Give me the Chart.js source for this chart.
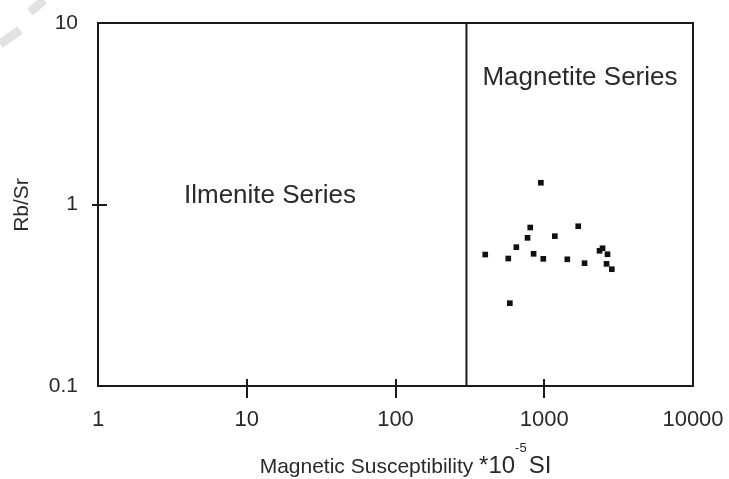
<!DOCTYPE html>
<html>
<head>
<meta charset="utf-8">
<title>Rb/Sr vs Magnetic Susceptibility</title>
<script src="https://cdn.jsdelivr.net/npm/chart.js@4/dist/chart.umd.min.js"></script>
<style>
  html, body { margin: 0; padding: 0; background: #fff; }
  #wrap { width: 729px; height: 479px; position: relative; }
</style>
</head>
<body>
<div id="wrap"><canvas id="msChart"></canvas></div>
<script>
// tick values
const xTicks = [1, 10, 100, 1000, 10000];
const yTicks = [0.1, 1, 10];

// samples: magnetic susceptibility (*10^-5 SI) and Rb/Sr
const susceptibility = [401, 573, 587, 649, 772, 805, 848, 949, 985, 1178, 1429, 1692, 1866, 2353, 2466, 2663, 2623, 2846];
const rbSr = [0.53, 0.504, 0.286, 0.582, 0.655, 0.747, 0.535, 1.318, 0.502, 0.669, 0.499, 0.759, 0.475, 0.556, 0.574, 0.532, 0.471, 0.44];

// ilmenite / magnetite boundary
const seriesBoundary = 300;
const fieldLabels = ['Ilmenite Series', 'Magnetite Series'];

const ink = '#1a1a1a';
const font = '"Liberation Sans", Arial, Helvetica, sans-serif';

const points = susceptibility.map((x, i) => ({x: x, y: rbSr[i]}));

// frame, crossing ticks and text labels
const framePlugin = {
    id: 'frame',
    afterDraw(chart) {
        const ctx = chart.ctx;
        const a = chart.chartArea;
        const xs = chart.scales.x;
        const ys = chart.scales.y;
        ctx.save();

        // faint scan mark in the corner
        ctx.strokeStyle = '#e2e2e2';
        ctx.lineWidth = 9;
        ctx.lineCap = 'butt';
        ctx.beginPath();
        ctx.moveTo(0, 44);
        ctx.lineTo(20, 30);
        ctx.moveTo(30, 12);
        ctx.lineTo(44, 0);
        ctx.stroke();

        ctx.strokeStyle = ink;
        ctx.lineWidth = 2;
        ctx.strokeRect(a.left, a.top, a.right - a.left, a.bottom - a.top);

        // tick marks across the axes
        ctx.beginPath();
        xTicks.slice(1, -1).forEach(v => {
            const px = Math.round(xs.getPixelForValue(v));
            ctx.moveTo(px, a.bottom - 7);
            ctx.lineTo(px, a.bottom + 12);
        });
        yTicks.slice(1, -1).forEach(v => {
            const py = Math.round(ys.getPixelForValue(v));
            ctx.moveTo(a.left - 6, py);
            ctx.lineTo(a.left + 9, py);
        });
        ctx.stroke();

        // field labels
        ctx.fillStyle = '#2a2a2a';
        ctx.font = '26px ' + font;
        ctx.textAlign = 'center';
        ctx.textBaseline = 'middle';
        const w = a.right - a.left, h = a.bottom - a.top;
        ctx.fillText(fieldLabels[0], a.left + w * 0.289, a.top + h * 0.476);
        ctx.fillText(fieldLabels[1], a.left + w * 0.81, a.top + h * 0.15);

        // x axis title with superscript
        const parts = [
            {t: 'Magnetic Susceptibility ', f: '21px ' + font, dy: 0},
            {t: '*10', f: '24px ' + font, dy: 0},
            {t: '-5', f: '13px ' + font, dy: -21},
            {t: 'SI', f: '24px ' + font, dy: 0}
        ];
        let total = 0;
        parts.forEach(p => { ctx.font = p.f; p.w = ctx.measureText(p.t).width; total += p.w; });
        let cx = (a.left + a.right) / 2 + 9 - total / 2;
        const base = 473;
        ctx.textAlign = 'left';
        ctx.textBaseline = 'alphabetic';
        parts.forEach(p => {
            ctx.font = p.f;
            ctx.fillText(p.t, cx, base + p.dy);
            cx += p.w + (p.t === '-5' ? 2 : 0);
        });

        // y axis title
        ctx.font = '21px ' + font;
        ctx.textAlign = 'center';
        ctx.textBaseline = 'middle';
        ctx.translate(22, 205);
        ctx.rotate(-Math.PI / 2);
        ctx.fillText('Rb/Sr', 0, 0);
        ctx.restore();
    }
};

function createChart() {
    const ctx = document.getElementById('msChart').getContext('2d');
    return new Chart(ctx, {
        type: 'scatter',
        data: {
            datasets: [{
                label: 'Samples',
                data: points,
                pointStyle: 'rect',
                pointRadius: 4,
                pointBorderWidth: 0,
                backgroundColor: '#111',
                borderColor: '#111'
            }, {
                type: 'line',
                label: 'Boundary',
                data: [{x: seriesBoundary, y: yTicks[0]}, {x: seriesBoundary, y: yTicks[yTicks.length - 1]}],
                borderColor: ink,
                borderWidth: 2,
                pointRadius: 0,
                fill: false
            }]
        },
        options: {
            responsive: true,
            maintainAspectRatio: false,
            animation: false,
            devicePixelRatio: 1,
            layout: {
                padding: {top: 23, right: 36, left: 0, bottom: 0}
            },
            plugins: {
                legend: {display: false},
                tooltip: {enabled: false}
            },
            scales: {
                x: {
                    type: 'logarithmic',
                    min: xTicks[0],
                    max: xTicks[xTicks.length - 1],
                    grid: {display: false},
                    border: {display: false},
                    afterBuildTicks: s => { s.ticks = xTicks.map(v => ({value: v})); },
                    afterFit: s => {
                        s.height = 93;
                        s.paddingLeft = 0;
                        s.paddingRight = 0;
                    },
                    ticks: {
                        autoSkip: false,
                        maxRotation: 0,
                        padding: 13,
                        color: '#2a2a2a',
                        font: {family: font, size: 22},
                        callback: v => String(v)
                    }
                },
                y: {
                    type: 'logarithmic',
                    min: yTicks[0],
                    max: yTicks[yTicks.length - 1],
                    grid: {display: false},
                    border: {display: false},
                    afterBuildTicks: s => { s.ticks = yTicks.map(v => ({value: v})); },
                    afterFit: s => {
                        s.width = 98;
                        s.paddingTop = 0;
                        s.paddingBottom = 0;
                    },
                    ticks: {
                        autoSkip: false,
                        padding: 12,
                        color: '#2a2a2a',
                        font: {family: font, size: 21},
                        callback: v => String(v)
                    }
                }
            }
        },
        plugins: [framePlugin]
    });
}

createChart();
</script>
</body>
</html>
